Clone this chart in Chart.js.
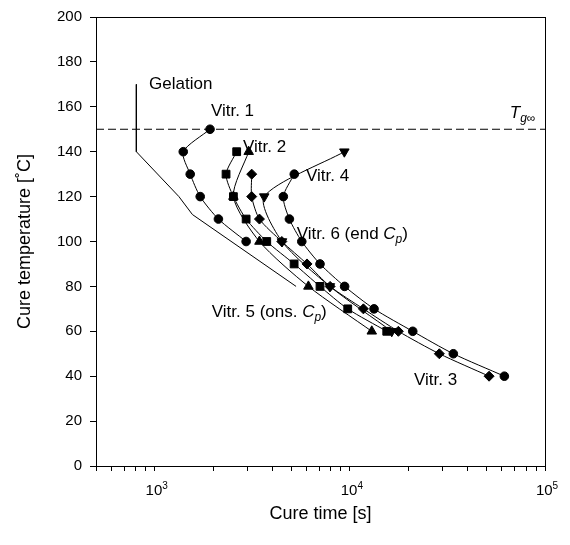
<!DOCTYPE html>
<html>
<head>
<meta charset="utf-8">
<script src="https://cdn.jsdelivr.net/npm/chart.js@4.4.0/dist/chart.umd.min.js"></script>
<style>
  html, body { margin: 0; padding: 0; background: #fff; }
  #wrap { width: 570px; height: 545px; position: relative; }
</style>
</head>
<body>
<div id="wrap"><canvas id="myChart"></canvas></div>
<script>
// values: cure time [s] vs cure temperature [°C]
const tgLineTime = [500, 100000];
const tgLineTemp = [150, 150];

const gelTime = [805, 805, 1330, 1560, 5300];
const gelTemp = [170, 140, 120, 112, 80];

const v1Time = [1920, 1400, 1520, 1710, 2120, 2940];
const v1Temp = [150, 140, 130, 120, 110, 100];

const squareTime = [2630, 2320, 2530, 2940, 3750, 5180, 7030, 9750, 15450];
const squareTemp = [140, 130, 120, 110, 100, 90, 80, 70, 60];

const triUpTime = [3030, 2530, 3440, 6130, 12950];
const triUpTemp = [140, 120, 100, 80, 60];

const diamondTime = [3140, 3140, 3440, 4480, 6030, 7920, 11730, 17720, 28740, 51700];
const diamondTemp = [130, 120, 110, 100, 90, 80, 70, 60, 50, 40];

const triDownTime = [9370, 3640, 4490, 7900, 16390];
const triDownTemp = [140, 120, 100, 80, 60];

const circleTime = [5190, 4560, 4900, 5670, 7030, 9400, 13300, 21000, 33900, 61900];
const circleTemp = [130, 120, 110, 100, 90, 80, 70, 60, 50, 40];

// axis ticks
const decadeTicks = [1000, 10000, 100000];
const decadeExp = ['3', '4', '5'];
const yTickStep = 20;

const FONT = '"Liberation Sans", Arial, Helvetica, sans-serif';

const pts = (times, temps) => times.map((t, i) => ({ x: t, y: temps[i] }));

// minor ticks at 1..9 x 10^n inside the axis range
const xTickValues = [];
[100, 1000, 10000].forEach((d) => {
  for (let m = 1; m <= 9; m++) {
    if (m * d >= 500) xTickValues.push(m * d);
  }
});
xTickValues.push(100000);

// text on the plot, placed in data units: [time, temp, runs]
// run styles: n normal, i italic, s italic subscript, S normal subscript
const notes = [
  [935, 170, [['Gelation', 'n']]],
  [1940, 158, [['Vitr. 1', 'n']]],
  [2835, 142, [['Vitr. 2', 'n']]],
  [5960, 129, [['Vitr. 4', 'n']]],
  [5340, 103, [['Vitr. 6 (end ', 'n'], ['C', 'i'], ['p', 's'], [')', 'n']]],
  [1960, 68.5, [['Vitr. 5 (ons. ', 'n'], ['C', 'i'], ['p', 's'], [')', 'n']]],
  [21300, 38, [['Vitr. 3', 'n']]],
  [66000, 157, [['T', 'i'], ['g', 's'], ['\u221E', 'S']]],
];

const drawRuns = (ctx, x, y, runs) => {
  runs.forEach(([str, st]) => {
    const sub = st === 's' || st === 'S';
    const italic = st === 'i' || st === 's';
    ctx.font = (italic ? 'italic ' : '') + (sub ? 12 : 17) + 'px ' + FONT;
    ctx.fillText(str, x, y + (sub ? 5 : 0));
    x += ctx.measureText(str).width;
  });
};

const extrasPlugin = {
  id: 'extras',
  afterDraw(chart) {
    const { ctx, chartArea: a, scales } = chart;
    ctx.save();
    // frame
    ctx.strokeStyle = '#000';
    ctx.lineWidth = 1;
    ctx.strokeRect(Math.round(a.left) + 0.5, Math.round(a.top) + 0.5,
      Math.round(a.right - a.left), Math.round(a.bottom - a.top));

    ctx.fillStyle = '#000';
    ctx.textBaseline = 'middle';
    ctx.textAlign = 'left';
    notes.forEach(([t, T, runs]) => {
      drawRuns(ctx, scales.x.getPixelForValue(t), scales.y.getPixelForValue(T), runs);
    });

    // decade labels 10^n, centred a little right of the tick
    decadeTicks.forEach((v, i) => {
      ctx.font = '15px ' + FONT;
      const w10 = ctx.measureText('10').width;
      ctx.font = '10px ' + FONT;
      const wExp = ctx.measureText(decadeExp[i]).width;
      const x0 = scales.x.getPixelForValue(v) + 2 - (w10 + wExp) / 2;
      const y = a.bottom + 25;
      ctx.textAlign = 'left';
      ctx.font = '15px ' + FONT;
      ctx.fillText('10', x0, y);
      ctx.font = '10px ' + FONT;
      ctx.fillText(decadeExp[i], x0 + w10, y - 5);
    });
    ctx.restore();
  },
};

const series = (times, temps, style, radius, rotation) => ({
  data: pts(times, temps),
  showLine: true,
  tension: 0.25,
  borderColor: '#000',
  borderWidth: 1,
  pointStyle: style,
  pointRadius: radius,
  pointRotation: rotation || 0,
  pointBackgroundColor: '#000',
  pointBorderColor: '#000',
  pointBorderWidth: 1,
});

const ctx = document.getElementById('myChart').getContext('2d');
new Chart(ctx, {
  type: 'scatter',
  data: {
    datasets: [
      {
        data: pts(tgLineTime, tgLineTemp),
        showLine: true,
        borderColor: '#000',
        borderWidth: 1,
        borderDash: [8, 4],
        pointRadius: 0,
      },
      {
        data: pts(gelTime, gelTemp),
        showLine: true,
        borderColor: '#000',
        borderWidth: 1,
        pointRadius: 0,
        tension: 0,
      },
      series(v1Time, v1Temp, 'circle', 4.3),
      series(squareTime, squareTemp, 'rect', 5.5),
      series(triUpTime, triUpTemp, 'triangle', 5.5),
      series(diamondTime, diamondTemp, 'rectRot', 5),
      series(triDownTime, triDownTemp, 'triangle', 5.5, 180),
      series(circleTime, circleTemp, 'circle', 4.3),
    ],
  },
  options: {
    responsive: true,
    maintainAspectRatio: false,
    animation: false,
    layout: { padding: { top: 15, right: 25, left: 0, bottom: 0 } },
    plugins: { legend: { display: false }, tooltip: { enabled: false } },
    scales: {
      x: {
        type: 'logarithmic',
        min: 500,
        max: 100000,
        afterBuildTicks: (s) => {
          s.ticks = xTickValues.map((v) => ({ value: v }));
        },
        afterFit: (s) => {
          s.height = 79;
        },
        ticks: { callback: () => '', autoSkip: false, maxRotation: 0 },
        grid: { drawOnChartArea: false, tickLength: 5, tickColor: '#000' },
        border: { color: '#000', width: 1 },
        title: {
          display: true,
          text: 'Cure time [s]',
          color: '#000',
          font: { family: FONT, size: 18 },
          padding: { top: 0, bottom: 20 },
        },
      },
      y: {
        min: 0,
        max: 200,
        afterFit: (s) => {
          s.width = 96;
        },
        ticks: {
          stepSize: yTickStep,
          color: '#000',
          padding: 8,
          font: { family: FONT, size: 15 },
        },
        grid: { drawOnChartArea: false, tickLength: 6, tickColor: '#000' },
        border: { color: '#000', width: 1 },
        title: {
          display: true,
          text: 'Cure temperature [\u02DAC]',
          color: '#000',
          font: { family: FONT, size: 18 },
          padding: { top: 14, bottom: 0 },
        },
      },
    },
  },
  plugins: [extrasPlugin],
});
</script>
</body>
</html>
